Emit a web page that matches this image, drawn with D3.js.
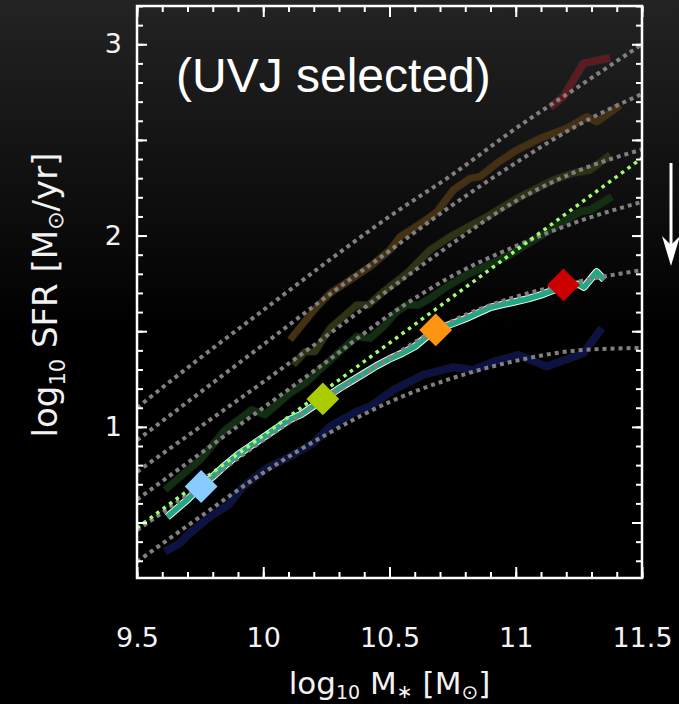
<!DOCTYPE html>
<html>
<head>
<meta charset="utf-8">
<script src="https://cdn.jsdelivr.net/npm/d3@7"></script>
<style>
  html, body { margin: 0; padding: 0; background: #000; }
  svg { display: block; }
  .tick text { font-family: "DejaVu Sans", sans-serif; fill: #f2f2f2; }
  .tick line { stroke: #fff; stroke-width: 2; }
</style>
</head>
<body>
<script>
// model curves (dotted grey)
var fitMass = [9.5, 9.75, 10, 10.25, 10.5, 10.75, 11, 11.25, 11.5];
var fit1 = [1.10, 1.36, 1.61, 1.86, 2.10, 2.32, 2.56, 2.78, 3.00];
var fit2 = [0.93, 1.18, 1.43, 1.68, 1.92, 2.16, 2.38, 2.58, 2.74];
var fit3 = [0.765, 1.00, 1.235, 1.475, 1.72, 1.96, 2.18, 2.34, 2.45];
var fit4 = [0.62, 0.86, 1.10, 1.34, 1.585, 1.79, 1.945, 2.075, 2.176];
var fit5 = [0.46, 0.69, 0.93, 1.15, 1.36, 1.555, 1.68, 1.76, 1.82];
var fit6 = [0.295, 0.53, 0.76, 0.96, 1.13, 1.255, 1.345, 1.40, 1.413];

// straight green dotted relation
var linMass = [9.5, 11.5];
var linSfr = [0.472, 2.405];

// measured sequences
var redMass = [11.136, 11.189, 11.268, 11.374];
var redSfr = [2.670, 2.726, 2.900, 2.929];

var brownMass = [10.106, 10.159, 10.212, 10.265, 10.344, 10.423, 10.502, 10.542, 10.621, 10.687, 10.753, 10.819, 10.859, 10.925, 11.004, 11.097, 11.202, 11.282, 11.321, 11.414];
var brownSfr = [1.455, 1.542, 1.627, 1.699, 1.768, 1.838, 1.925, 1.994, 2.061, 2.123, 2.238, 2.299, 2.308, 2.378, 2.447, 2.508, 2.561, 2.621, 2.595, 2.682];

var oliveMass = [10.119, 10.166, 10.205, 10.265, 10.317, 10.370, 10.416, 10.476, 10.569, 10.661, 10.740, 10.886, 11.017, 11.149, 11.222, 11.295, 11.374];
var oliveSfr = [1.324, 1.393, 1.393, 1.516, 1.576, 1.637, 1.637, 1.707, 1.803, 1.925, 1.994, 2.099, 2.203, 2.290, 2.325, 2.343, 2.421];

var greenMass = [9.611, 9.750, 9.849, 9.954, 10.007, 10.106, 10.166, 10.252, 10.370, 10.423, 10.476, 10.529, 10.569, 10.615, 10.661, 10.727, 10.806, 10.965, 11.136, 11.255, 11.295, 11.381];
var greenSfr = [0.671, 0.828, 0.984, 1.089, 1.063, 1.176, 1.228, 1.333, 1.472, 1.463, 1.524, 1.602, 1.637, 1.637, 1.672, 1.733, 1.794, 1.890, 2.029, 2.125, 2.134, 2.203];

var tealMass = [9.62, 9.70, 9.75, 9.80, 9.85, 9.90, 9.95, 10.00, 10.05, 10.10, 10.15, 10.20, 10.25, 10.30, 10.35, 10.40, 10.45, 10.50, 10.55, 10.60, 10.65, 10.70, 10.75, 10.80, 10.85, 10.90, 10.95, 11.00, 11.05, 11.10, 11.15, 11.20, 11.25, 11.27, 11.32, 11.35];
var tealSfr = [0.53, 0.62, 0.685, 0.74, 0.80, 0.855, 0.90, 0.945, 0.99, 1.035, 1.065, 1.11, 1.155, 1.20, 1.24, 1.28, 1.32, 1.355, 1.385, 1.42, 1.475, 1.515, 1.54, 1.565, 1.595, 1.625, 1.64, 1.655, 1.67, 1.69, 1.715, 1.74, 1.745, 1.73, 1.81, 1.77];

var navyMass = [9.611, 9.670, 9.710, 9.789, 9.862, 9.921, 10.014, 10.106, 10.198, 10.265, 10.370, 10.423, 10.515, 10.634, 10.753, 10.832, 10.912, 11.011, 11.123, 11.268, 11.341];
var navySfr = [0.348, 0.392, 0.445, 0.531, 0.592, 0.688, 0.784, 0.845, 0.915, 1.002, 1.080, 1.106, 1.193, 1.272, 1.312, 1.298, 1.341, 1.376, 1.315, 1.385, 1.516];

// diamonds
var diaMass = [9.754, 10.236, 10.683, 11.189];
var diaSfr = [0.688, 1.146, 1.507, 1.742];
var diaColors = ["#88ccff", "#aacc00", "#ff9411", "#cc0000"];

var xMajor = [9.5, 10, 10.5, 11, 11.5];
var yMajor = [0.5, 1, 1.5, 2, 2.5, 3];
var yLabelled = [1, 2, 3];

//size of viewport
var width = 679,
	height = 704;

// plot frame (window.top is read-only, so prefixed names)
var pLeft = 137, pRight = 642, pTop = 6, pBottom = 578;

var svg = d3.select("body").append("svg")
	.attr("width", width)
	.attr("height", height);

var defs = svg.append("defs");
var grad = defs.append("linearGradient")
	.attr("id", "bg").attr("x1", 0).attr("y1", 0).attr("x2", 0).attr("y2", 1);
grad.append("stop").attr("offset", "0").attr("stop-color", "#232323");
grad.append("stop").attr("offset", "0.47").attr("stop-color", "#000");
grad.append("stop").attr("offset", "1").attr("stop-color", "#000");

defs.append("clipPath").attr("id", "plotclip")
	.append("rect").attr("x", pLeft).attr("y", pTop)
	.attr("width", pRight - pLeft).attr("height", pBottom - pTop);

svg.append("rect").attr("width", width).attr("height", height).attr("fill", "url(#bg)");

var x = d3.scaleLinear().domain([9.5, 11.5]).range([pLeft, pRight]);
var y = d3.scaleLinear().domain([0.21, 3.2]).range([pBottom, pTop]);

function pairs(xs, ys) {
	return xs.map(function(v, i) { return [v, ys[i]]; });
}

var line = d3.line()
	.x(function(d) { return x(d[0]); })
	.y(function(d) { return y(d[1]); });

var smooth = d3.line()
	.curve(d3.curveMonotoneX)
	.x(function(d) { return x(d[0]); })
	.y(function(d) { return y(d[1]); });

var plot = svg.append("g").attr("clip-path", "url(#plotclip)");

// solid measured lines
var solids = [
	{m: navyMass, s: navySfr, c: "#0c1246"},
	{m: greenMass, s: greenSfr, c: "#122f11"},
	{m: oliveMass, s: oliveSfr, c: "#2e3313"},
	{m: brownMass, s: brownSfr, c: "#463012"},
	{m: redMass, s: redSfr, c: "#5e1a1e"}
];

solids.forEach(function(d) {
	plot.append("path")
		.attr("d", line(pairs(d.m, d.s)))
		.attr("fill", "none")
		.attr("stroke", "rgba(255,255,255,0.09)")
		.attr("stroke-width", 8)
		.attr("stroke-linejoin", "round");
	plot.append("path")
		.attr("d", line(pairs(d.m, d.s)))
		.attr("fill", "none")
		.attr("stroke", d.c)
		.attr("stroke-width", 6.5)
		.attr("stroke-linejoin", "round");
});

// teal with white edge
plot.append("path")
	.attr("d", line(pairs(tealMass, tealSfr)))
	.attr("fill", "none").attr("stroke", "#f4f4f4")
	.attr("stroke-width", 7.5).attr("stroke-linejoin", "round");
plot.append("path")
	.attr("d", line(pairs(tealMass, tealSfr)))
	.attr("fill", "none").attr("stroke", "#1ea884")
	.attr("stroke-width", 5.5).attr("stroke-linejoin", "round");

// grey dotted model curves
[fit1, fit2, fit3, fit4, fit5, fit6].forEach(function(f) {
	plot.append("path")
		.attr("d", smooth(pairs(fitMass, f)))
		.attr("fill", "none")
		.attr("stroke", "#808080")
		.attr("stroke-width", 4)
		.attr("stroke-dasharray", "4,4");
});

// green dotted linear relation
plot.append("path")
	.attr("d", line(pairs(linMass, linSfr)))
	.attr("fill", "none")
	.attr("stroke", "#9cff70")
	.attr("stroke-width", 3.5)
	.attr("stroke-dasharray", "3.5,4.5");

// diamonds
plot.selectAll(".dia")
	.data(diaMass)
	.enter().append("path")
	.attr("class", "dia")
	.attr("d", d3.symbol().type(d3.symbolSquare).size(540))
	.attr("transform", function(d, i) { return "translate(" + x(d) + "," + y(diaSfr[i]) + ") rotate(45)"; })
	.attr("fill", function(d, i) { return diaColors[i]; });

// axes, ticks pointing inward on all four sides
function clean(g) { g.select(".domain").remove(); }

svg.append("g").attr("transform", "translate(0," + pBottom + ")")
	.call(d3.axisBottom(x).tickValues(x.ticks(20)).tickSize(-6).tickFormat("")).call(clean);
svg.append("g").attr("transform", "translate(0," + pBottom + ")")
	.call(d3.axisBottom(x).tickValues(xMajor).tickSize(-11).tickPadding(69)
		.tickFormat(function(d) { return d; }))
	.call(clean)
	.selectAll("text").attr("font-size", 27).attr("dy", 0);
svg.append("g").attr("transform", "translate(0," + pTop + ")")
	.call(d3.axisTop(x).tickValues(x.ticks(20)).tickSize(-6).tickFormat("")).call(clean);
svg.append("g").attr("transform", "translate(0," + pTop + ")")
	.call(d3.axisTop(x).tickValues(xMajor).tickSize(-11).tickFormat("")).call(clean);

svg.append("g").attr("transform", "translate(" + pLeft + ",0)")
	.call(d3.axisLeft(y).tickValues(y.ticks(30)).tickSize(-6).tickFormat("")).call(clean);
svg.append("g").attr("transform", "translate(" + pLeft + ",0)")
	.call(d3.axisLeft(y).tickValues(yMajor).tickSize(-10).tickPadding(15)
		.tickFormat(function(d) { return yLabelled.indexOf(d) >= 0 ? d : ""; }))
	.call(clean)
	.selectAll("text").attr("font-size", 27);
svg.append("g").attr("transform", "translate(" + pRight + ",0)")
	.call(d3.axisRight(y).tickValues(y.ticks(30)).tickSize(-6).tickFormat("")).call(clean);
svg.append("g").attr("transform", "translate(" + pRight + ",0)")
	.call(d3.axisRight(y).tickValues(yMajor).tickSize(-10).tickFormat("")).call(clean);

// frame
svg.append("rect")
	.attr("x", pLeft).attr("y", pTop)
	.attr("width", pRight - pLeft).attr("height", pBottom - pTop)
	.attr("fill", "none").attr("stroke", "#fff").attr("stroke-width", 2.5);

// titles
var xt = svg.append("text")
	.attr("x", (pLeft + pRight) / 2).attr("y", 694)
	.attr("text-anchor", "middle")
	.attr("font-family", "DejaVu Sans").attr("font-size", 31).attr("fill", "#f2f2f2");
xt.append("tspan").text("log");
xt.append("tspan").attr("font-size", 19).attr("dy", 5).text("10");
xt.append("tspan").attr("dy", -5).text(" M");
xt.append("tspan").attr("font-size", 19).attr("dy", 4).text("\u2217");
xt.append("tspan").attr("dy", -4).text(" [M");
xt.append("tspan").attr("font-size", 20).attr("dy", 5).text("\u2299");
xt.append("tspan").attr("dy", -5).text("]");

var yt = svg.append("text")
	.attr("transform", "translate(57,295) rotate(-90)")
	.attr("text-anchor", "middle")
	.attr("font-family", "DejaVu Sans").attr("font-size", 34).attr("fill", "#f2f2f2");
yt.append("tspan").text("log");
yt.append("tspan").attr("font-size", 21).attr("dy", 8).text("10");
yt.append("tspan").attr("dy", -8).text(" SFR [M");
yt.append("tspan").attr("font-size", 22).attr("dy", 6).text("\u2299");
yt.append("tspan").attr("dy", -6).text("/yr]");

svg.append("text")
	.attr("x", 176).attr("y", 92)
	.attr("font-family", "Liberation Sans, Arial, sans-serif")
	.attr("font-size", 48).attr("fill", "#fff")
	.text("(UVJ selected)");

// arrow on the right
svg.append("line")
	.attr("x1", 671).attr("y1", 163).attr("x2", 671).attr("y2", 245)
	.attr("stroke", "#fff").attr("stroke-width", 3);
svg.append("path")
	.attr("d", "M662,236 L671,266 L680,236 L671,245 Z")
	.attr("fill", "#fff");
</script>
</body>
</html>
